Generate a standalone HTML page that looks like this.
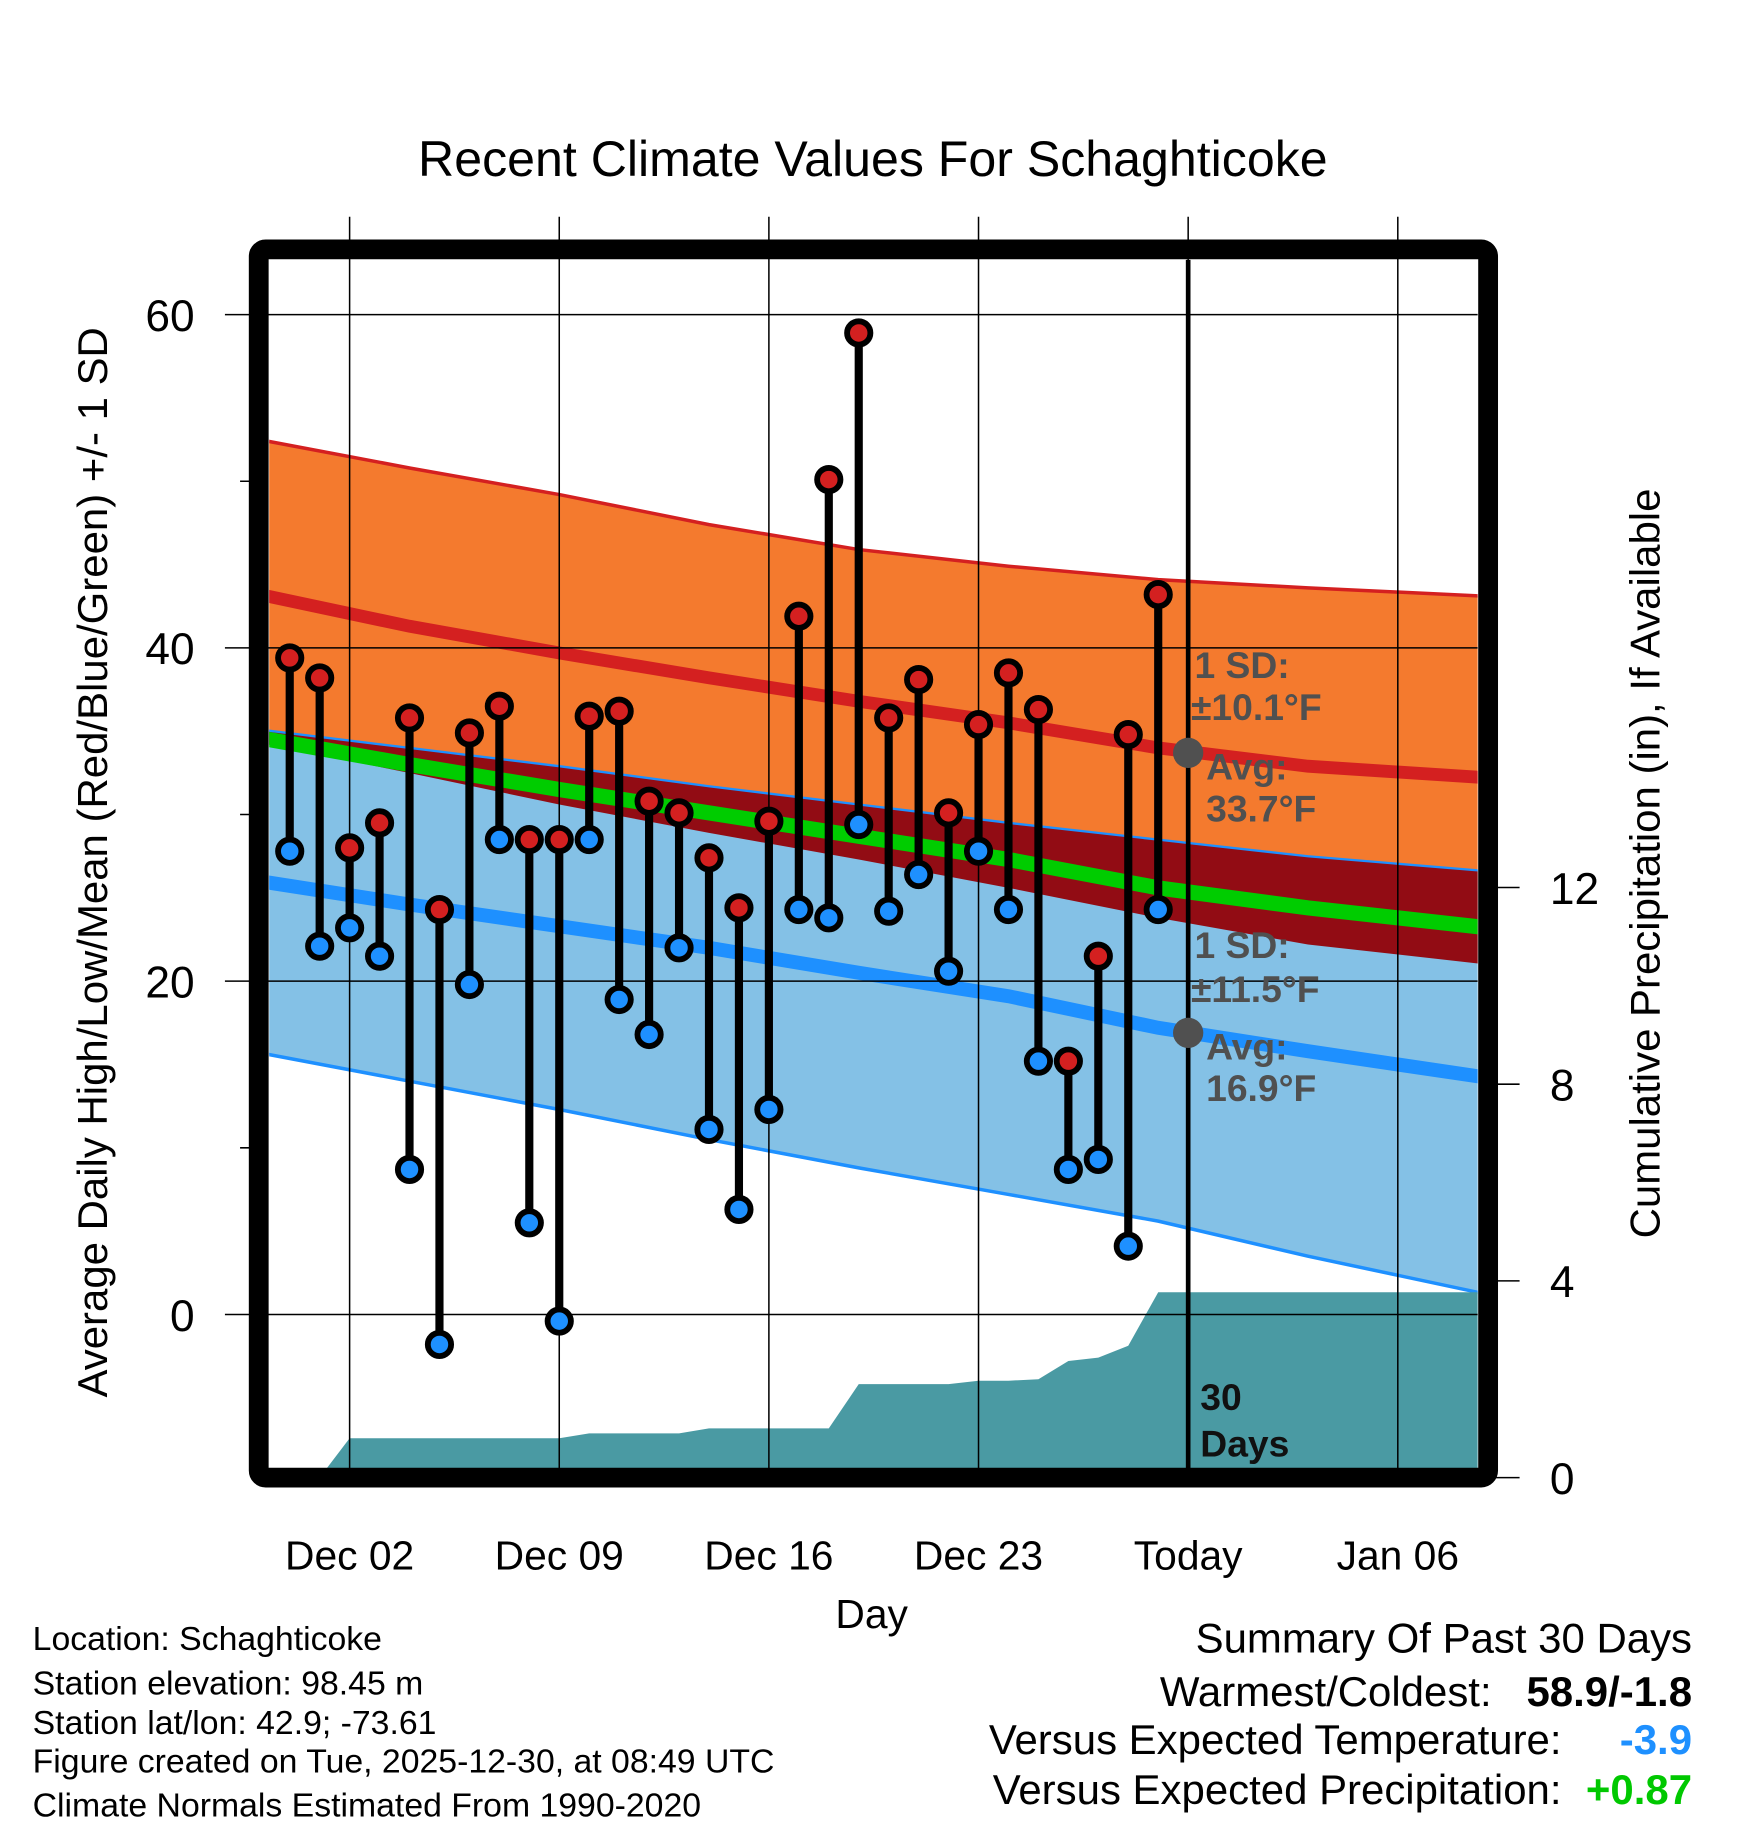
<!DOCTYPE html>
<html><head><meta charset="utf-8"><style>
html,body{margin:0;padding:0;background:#fff}
svg{display:block}
text{font-family:"Liberation Sans",Arial,sans-serif}
</style></head><body>
<svg id="chart" xmlns="http://www.w3.org/2000/svg" width="1748" height="1828" viewBox="0 0 1500 1568.7">
<defs><clipPath id="plotclip"><rect x="231" y="223" width="1037" height="1037"/></clipPath></defs>
<text x="749" y="151" text-anchor="middle" font-size="43">Recent Climate Values For Schaghticoke</text>
<g id="fills" clip-path="url(#plotclip)"></g>
<g id="grid"></g>
<g id="marks"></g>
<rect x="222" y="214" width="1055" height="1054" rx="6" fill="none" stroke="#000" stroke-width="17"/>
<g id="axes"></g>
<text transform="translate(92,740) rotate(-90)" text-anchor="middle" font-size="36">Average Daily High/Low/Mean (Red/Blue/Green) +/- 1 SD</text>
<text transform="translate(1424,741) rotate(-90)" text-anchor="middle" font-size="36">Cumulative Precipitation (in), If Available</text>
<text x="748" y="1397" text-anchor="middle" font-size="35">Day</text>
<g font-size="32" font-weight="bold" fill="#505050">
<text x="1025" y="582">1 SD:</text>
<text x="1022" y="618">±10.1°F</text>
<text x="1035" y="669">Avg:</text>
<text x="1035" y="705">33.7°F</text>
<text x="1025" y="822">1 SD:</text>
<text x="1022" y="860">±11.5°F</text>
<text x="1035" y="909">Avg:</text>
<text x="1035" y="945">16.9°F</text>
</g>
<g font-size="32" font-weight="bold" fill="#111">
<text x="1030" y="1210">30</text>
<text x="1030" y="1250">Days</text>
</g>
<g font-size="29" fill="#000">
<text x="28" y="1416">Location: Schaghticoke</text>
<text x="28" y="1454">Station elevation: 98.45 m</text>
<text x="28" y="1488">Station lat/lon: 42.9; -73.61</text>
<text x="28" y="1521">Figure created on Tue, 2025-12-30, at 08:49 UTC</text>
<text x="28" y="1559">Climate Normals Estimated From 1990-2020</text>
</g>
<g font-size="36" fill="#000">
<text x="1452" y="1418" text-anchor="end">Summary Of Past 30 Days</text>
<text x="1280" y="1464" text-anchor="end">Warmest/Coldest:</text>
<text x="1452" y="1464" text-anchor="end" font-weight="bold">58.9/-1.8</text>
<text x="1340" y="1505" text-anchor="end">Versus Expected Temperature:</text>
<text x="1452" y="1505" text-anchor="end" font-weight="bold" fill="#1e90ff">-3.9</text>
<text x="1340" y="1548" text-anchor="end">Versus Expected Precipitation:</text>
<text x="1452" y="1548" text-anchor="end" font-weight="bold" fill="#00c800">+0.87</text>
</g>
</svg>
<script>
const dayLabels = ["Dec 02","Dec 09","Dec 16","Dec 23","Today","Jan 06"];
const dayLabelIdx = [2,9,16,23,30,37];
const tempTicks = [0,20,40,60];
const tempMinor = [10,30,50];
const precipTicks = [0,4,8,12];
const obsHigh = [39.4,38.2,28.0,29.5,35.8,24.3,34.9,36.5,28.5,28.5,35.9,36.2,30.8,30.1,27.4,24.4,29.6,41.9,50.1,58.9,35.8,38.1,30.1,35.4,38.5,36.3,15.2,21.5,34.8,43.2];
const obsLow = [27.8,22.1,23.2,21.5,8.7,-1.8,19.8,28.5,5.5,-0.4,28.5,18.9,16.8,22.0,11.1,6.3,12.3,24.3,23.8,29.4,24.2,26.4,20.6,27.8,24.3,15.2,8.7,9.3,4.1,24.3];
const cumPrecip = [0,0,0.8,0.8,0.8,0.8,0.8,0.8,0.8,0.8,0.9,0.9,0.9,0.9,1.0,1.0,1.0,1.0,1.0,1.9,1.9,1.9,1.9,1.97,1.97,2.0,2.37,2.44,2.68,3.77];
const normDays = [-1,4,9,14,19,24,29,34,40];
const normHigh = [43.2,41.3,39.7,38.2,36.8,35.5,34.0,32.9,32.2];
const normHighUpper = [52.5,50.8,49.2,47.4,45.9,44.9,44.1,43.6,43.1];
const normHighLower = [34.3,32.5,30.6,28.9,27.3,25.6,23.8,22.2,21.0];
const normLow = [26.0,24.6,23.3,22.0,20.5,19.1,17.2,15.8,14.2];
const normLowUpper = [35.1,34.0,32.9,31.7,30.6,29.5,28.5,27.5,26.6];
const normLowLower = [15.7,14.0,12.3,10.5,8.8,7.2,5.6,3.5,1.2];
const normMean = [34.6,33.0,31.5,30.1,28.7,27.3,25.6,24.4,23.2];
const todayHighAvg = 33.7, todayLowAvg = 16.9, todayIdx = 30;

const NS="http://www.w3.org/2000/svg";
const X = d => 248.6 + d*25.7;
const Y = t => 1128 - t*14.3;
const P = p => 1268 - p*42.2;
function mk(tag, attrs, parent){const e=document.createElementNS(NS,tag);for(const k in attrs)e.setAttribute(k,attrs[k]);parent.appendChild(e);return e;}
const fills=document.getElementById('fills'), grid=document.getElementById('grid'), marks=document.getElementById('marks'), axes=document.getElementById('axes');
function line(arr){return normDays.map((d,i)=>X(d).toFixed(1)+","+Y(arr[i]).toFixed(1));}
function band(top,bot){return line(top).concat(line(bot).reverse()).join(" ");}
let e;
e=mk('polygon',{points:band(normHighUpper,normHighLower),fill:'#f47a2e'},fills);


e=mk('polygon',{points:band(normLowUpper,normLowLower),fill:'#84c1e6'},fills);


const ovTop=normLowUpper, ovBot=normHighLower.map((v,i)=>Math.min(v,normLowUpper[i]));
e=mk('polygon',{points:band(ovTop,ovBot),fill:'#920c14'},fills);


e=mk('polyline',{points:line(normHighUpper).join(" "),fill:'none',stroke:'#d42020','stroke-width':3},fills);


e=mk('polyline',{points:line(normLowUpper).join(" "),fill:'none',stroke:'#1e90ff','stroke-width':2},fills);


e=mk('polyline',{points:line(normLowLower).join(" "),fill:'none',stroke:'#1e90ff','stroke-width':3},fills);


e=mk('polyline',{points:line(normHigh).join(" "),fill:'none',stroke:'#d42020','stroke-width':11},fills);


e=mk('polyline',{points:line(normMean).join(" "),fill:'none',stroke:'#00cc00','stroke-width':13},fills);


e=mk('polyline',{points:line(normLow).join(" "),fill:'none',stroke:'#1e90ff','stroke-width':12},fills);


let pp=[X(-1)+","+P(0)];
cumPrecip.forEach((v,i)=>pp.push(X(i)+","+P(v)));
pp.push("1270,"+P(cumPrecip[cumPrecip.length-1]));
pp.push("1270,"+P(0));
e=mk('polygon',{points:pp.join(" "),fill:'#4a9aa3'},fills);


dayLabelIdx.forEach((d,i)=>{
  const g=mk('line',{x1:X(d),x2:X(d),y1:186,y2:1268,stroke:'#000','stroke-width':1.3},grid);
  
  
  const t=mk('text',{x:X(d),y:1347,'text-anchor':'middle','font-size':35},axes);
  t.textContent=dayLabels[i];
  
  
});
tempTicks.forEach(v=>{
  const g=mk('line',{x1:193,x2:1268,y1:Y(v),y2:Y(v),stroke:'#000','stroke-width':1.3},grid);
  
  
  const t=mk('text',{x:167,y:Y(v)+14,'text-anchor':'end','font-size':38},axes);
  t.textContent=v;
  
  
});
tempMinor.forEach(v=>{
  const g=mk('line',{x1:206,x2:222,y1:Y(v),y2:Y(v),stroke:'#000','stroke-width':1.3},axes);
  
  
});
precipTicks.forEach(v=>{
  const g=mk('line',{x1:1277,x2:1304,y1:P(v),y2:P(v),stroke:'#000','stroke-width':1.3},axes);
  
  
  const t=mk('text',{x:1330,y:P(v)+14,'font-size':38},axes);
  t.textContent=v;
  
  
});
e=mk('line',{x1:X(todayIdx),x2:X(todayIdx),y1:223,y2:1260,stroke:'#000','stroke-width':4},marks);


e=mk('circle',{cx:X(todayIdx),cy:Y(todayHighAvg),r:13,fill:'#505050'},marks);


e=mk('circle',{cx:X(todayIdx),cy:Y(todayLowAvg),r:13,fill:'#505050'},marks);


obsHigh.forEach((h,i)=>{
  const l=obsLow[i];
  const s=mk('line',{x1:X(i),x2:X(i),y1:Y(h),y2:Y(l),stroke:'#000','stroke-width':7},marks);
  
  
  const c1=mk('circle',{cx:X(i),cy:Y(h),r:10,fill:'#d42020',stroke:'#000','stroke-width':5},marks);
  
  
  const c2=mk('circle',{cx:X(i),cy:Y(l),r:10,fill:'#1e90ff',stroke:'#000','stroke-width':5},marks);
  
  
});
</script>
</body></html>
